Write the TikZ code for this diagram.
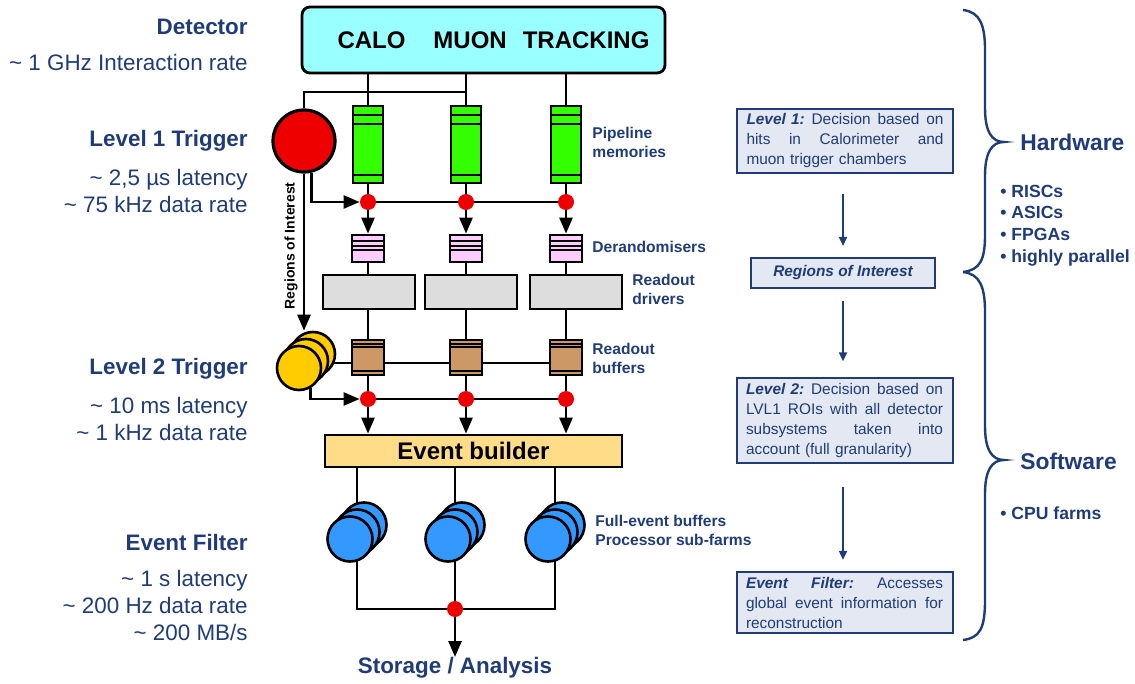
\documentclass[tikz,border=0pt]{standalone}
\usepackage{fontspec}
\setmainfont{Liberation Sans}
\usetikzlibrary{arrows.meta,backgrounds}

\definecolor{navy}{HTML}{1F3C78}
\definecolor{detcyan}{HTML}{99FFFF}
\definecolor{pipegreen}{HTML}{33FF00}
\definecolor{dotred}{HTML}{EE0000}
\definecolor{derpink}{HTML}{FFCCFF}
\definecolor{rodgray}{HTML}{DDDDDD}
\definecolor{robtan}{HTML}{CC9966}
\definecolor{lvltwo}{HTML}{FFCC00}
\definecolor{evbuild}{HTML}{FFDD88}
\definecolor{farmblue}{HTML}{3399FF}
\definecolor{boxfill}{HTML}{E3E8F2}

\tikzset{wire/.style={line width=1.3pt},
arr/.style={wire, -{Triangle[length=8pt,width=6.5pt]}},
infoarr/.style={navy, line width=1pt, -{Triangle[length=4.5pt,width=4pt]}},
jdot/.style={circle, fill=dotred, minimum size=8pt, inner sep=0pt},
%stripes across the top and bottom of a box
stripe/.style={line width=#1},
stripe/.default={1pt},
pipe/.style={draw, line width=1.4pt, fill=pipegreen, minimum width=15pt, minimum height=38.5pt, inner sep=0pt,
  path picture={
    \draw[stripe=1.1pt] ([yshift=-4.5pt]path picture bounding box.north west) -- ([yshift=-4.5pt]path picture bounding box.north east);
    \draw[stripe=1.1pt] ([yshift=-9pt]path picture bounding box.north west) -- ([yshift=-9pt]path picture bounding box.north east);
    \draw[stripe=1.1pt] ([yshift=4pt]path picture bounding box.south west) -- ([yshift=4pt]path picture bounding box.south east);}},
derand/.style={draw, line width=1.4pt, fill=derpink, minimum width=16pt, minimum height=13.5pt, inner sep=0pt,
  path picture={
    \foreach \s in {3,5.5,7.5}
      \draw[stripe=0.8pt] ([yshift=-\s pt]path picture bounding box.north west) -- ([yshift=-\s pt]path picture bounding box.north east);}},
robuf/.style={draw, line width=1.4pt, fill=robtan, minimum width=16pt, minimum height=17.5pt, inner sep=0pt,
  path picture={
    \foreach \s in {2,3.5}
      \draw[stripe=0.7pt] ([yshift=-\s pt]path picture bounding box.north west) -- ([yshift=-\s pt]path picture bounding box.north east);
    \draw[stripe=0.7pt] ([yshift=2pt]path picture bounding box.south west) -- ([yshift=2pt]path picture bounding box.south east);}},
rodrv/.style={draw, line width=1.4pt, fill=rodgray, minimum width=46pt, minimum height=17pt, inner sep=0pt},
detbox/.style={draw, line width=1.4pt, rounded corners=4pt, fill=detcyan, minimum width=181.5pt, minimum height=33pt,
  font=\bfseries\fontsize{12}{14}\selectfont},
evbox/.style={draw, line width=1.4pt, fill=evbuild, minimum width=148.5pt, minimum height=16pt, inner sep=0pt,
  font=\bfseries\fontsize{12}{14}\selectfont},
lone/.style={circle, draw, line width=1.6pt, fill=dotred, minimum size=31pt, inner sep=0pt},
ltwo/.style={circle, draw, line width=1.3pt, fill=lvltwo, minimum size=22pt, inner sep=0pt},
farm/.style={circle, draw, line width=1.3pt, fill=farmblue, minimum size=22.5pt, inner sep=0pt},
lvlhead/.style={anchor=east, inner sep=0pt, text=navy, font=\bfseries\fontsize{11.2}{13.5}\selectfont},
lvlinfo/.style={anchor=east, inner sep=0pt, text=navy, align=right, font=\fontsize{11.2}{13.5}\selectfont},
partlbl/.style={anchor=west, inner sep=0pt, text=navy, align=left, font=\bfseries\fontsize{7.8}{9.5}\selectfont},
infobox/.style={draw=navy, line width=1pt, fill=boxfill, text=navy, text width=98.5pt, inner xsep=4.75pt, inner ysep=2.5pt,
  align=left, font=\fontsize{7.7}{10}\selectfont},
roibox/.style={draw=navy, line width=1pt, fill=boxfill, text=navy, minimum width=92pt, minimum height=15pt, inner sep=0pt,
  font=\bfseries\itshape\fontsize{7.7}{10}\selectfont},
hwlbl/.style={anchor=west, inner sep=0pt, text=navy, font=\bfseries\fontsize{11.4}{13.5}\selectfont},
hwlist/.style={anchor=west, inner sep=0pt, text=navy, align=left, font=\bfseries\fontsize{8.8}{10.8}\selectfont},
brace/.style={navy, line width=1.2pt}}

\begin{document}
\begin{tikzpicture}[x=0.5pt,y=-0.5pt]
\useasboundingbox (0,0) rectangle (1135,684);

% rates on the left
\node[lvlhead] (detlbl) at (248,27) {Detector};
\node[lvlinfo] (detinfo) at (248,62) {\textasciitilde{} 1 GHz Interaction rate};
\node[lvlhead] (lonelbl) at (248,141) {Level 1 Trigger};
\node[lvlinfo] (loneinfo) at (248,190.5) {\textasciitilde{} 2,5 µs latency\\\textasciitilde{} 75 kHz data rate};
\node[lvlhead] (ltwolbl) at (248,369) {Level 2 Trigger};
\node[lvlinfo] (ltwoinfo) at (248,418.5) {\textasciitilde{} 10 ms latency\\\textasciitilde{} 1 kHz data rate};
\node[lvlhead] (eflbl) at (248,542) {Event Filter};
\node[lvlinfo] (efinfo) at (248,605) {\textasciitilde{} 1 s latency\\\textasciitilde{} 200 Hz data rate\\\textasciitilde{} 200 MB/s};

% detector and readout chain
\node[detbox] (det) at (483.5,40) {\hspace*{10pt}CALO\hspace{14pt}MUON\hspace{8pt}TRACKING};
\node[lone] (lone) at (304,141) {};
\foreach \nm/\cx in {a/368, b/466, c/566}{
  \node[pipe] (pipe\nm) at (\cx,144.5) {};
  \node[jdot] (done\nm) at (\cx,202) {};
  \node[derand] (der\nm) at (\cx,248.5) {};
  \node[robuf] (buf\nm) at (\cx,357.5) {};
  \node[jdot] (dtwo\nm) at (\cx,399) {};
}
\foreach \nm/\dx in {a/369, b/471, c/576}
  \node[rodrv] (rod\nm) at (\dx,292) {};
\node[ltwo] (ltwoc) at (313,354) {};
\node[ltwo] (ltwob) at (306,361) {};
\node[ltwo] (ltwoa) at (299,368) {};
\node[evbox] (evb) at (473.5,451) {Event builder};
\foreach \nm/\fx in {a/357, b/455, c/555}{
  \node[farm] (farmc\nm) at (\fx+7,525) {};
  \node[farm] (farmb\nm) at (\fx,532) {};
  \node[farm] (farma\nm) at (\fx-7,539) {};
}
\node[jdot] (dend) at (455,609) {};
\node[anchor=north, inner sep=0pt, text=navy, font=\bfseries\fontsize{11.2}{13.5}\selectfont] (store) at (455,657) {Storage / Analysis};

\node[partlbl] (pipelbl) at (592,142.5) {Pipeline\\memories};
\node[partlbl] (derlbl) at (592,247) {Derandomisers};
\node[partlbl] (rodlbl) at (632,289.5) {Readout\\drivers};
\node[partlbl] (buflbl) at (592,358) {Readout\\buffers};
\node[partlbl] (farmlbl) at (595,530.5) {Full-event buffers\\Processor sub-farms};

\begin{scope}[on background layer]
  \foreach \nm in {a,b,c}{
    \draw[wire] (det.south -| pipe\nm) -- (pipe\nm.north);
    \draw[wire] (pipe\nm) -- (done\nm);
    \draw[wire] (der\nm.south) -- (der\nm.south |- rod\nm.north);
    \draw[wire] (rod\nm.south -| buf\nm) -- (buf\nm.north);
    \draw[wire] (buf\nm) -- (dtwo\nm);
    \draw[wire] (evb.south -| farmb\nm) -- (farmb\nm.center);
  }
  \draw[wire] (donea) -- (doneb) -- (donec);
  \draw[wire] (dtwoa) -- (dtwob) -- (dtwoc);
  \draw[wire] ([yshift=-2.75pt]bufc.center) -- ([yshift=-2.75pt]bufa.center) -- ([yshift=-2.75pt]bufa.center -| ltwob.center);
  \draw[wire] (farmba.center) |- (dend);
  \draw[wire] (farmbc.center) |- (dend);
  \draw[wire] (farmbb.center) -- (dend);
\end{scope}

\coordinate (tap) at (467,92);
\draw[wire] (lone.north) |- (tap);
\draw[arr] (lone.-77) |- (donea.west);
\draw[arr] (lone.south) -- (lone.south |- ltwoc.north)
  node[pos=0.46, rotate=90, anchor=south, inner sep=2.5pt, font=\bfseries\fontsize{7}{8}\selectfont] {Regions of Interest};
\draw[arr] (ltwoa.-60) |- (dtwoa.west);
\foreach \nm in {a,b,c}{
  \draw[arr] (done\nm) -- (der\nm.north);
  \draw[arr] (dtwo\nm) -- (dtwo\nm |- evb.north);
}
\draw[arr] (dend) -- (store.north);

% trigger levels on the right
\node[infobox] (lvone) at (845,141) {\textbf{\textit{Level 1:}}\hfill Decision\hfill based\hfill on\\hits\hfill in\hfill Calorimeter\hfill and\\muon trigger chambers};
\node[roibox] (roi) at (843,273) {Regions of Interest};
\node[infobox] (lvtwo) at (844.5,420.5) {\textbf{\textit{Level 2:}}\hfill Decision\hfill based\hfill on\\LVL1\hfill ROIs\hfill with\hfill all\hfill detector\\subsystems\hfill taken\hfill into\\account (full granularity)};
\node[infobox] (efbox) at (844.5,602.5) {\textbf{\textit{Event\hfill Filter:}}\hfill Accesses\\global\hfill event\hfill information\hfill for\\reconstruction};
\draw[infoarr, shorten <=10pt, shorten >=5.5pt] (lvone.south -| roi.north) -- (roi.north);
\draw[infoarr, shorten <=6pt, shorten >=8pt] (roi.south) -- (roi.south |- lvtwo.north);
\draw[infoarr, shorten <=11.5pt, shorten >=5.5pt] (lvtwo.south -| roi.south) -- (roi.south |- efbox.north);

% hardware / software braces
\draw[brace] (963,10) .. controls (980,12) and (985,25) .. (985,50) -- (985,108)
  .. controls (985,132) and (992,142) .. (1004,142) .. controls (992,142) and (985,152) .. (985,176)
  -- (985,235) .. controls (985,260) and (980,270) .. (963,272);
\draw[brace] (963,272) .. controls (980,274) and (985,287) .. (985,312) -- (985,426)
  .. controls (985,450) and (992,460) .. (1004,460) .. controls (992,460) and (985,470) .. (985,494)
  -- (985,600) .. controls (985,628) and (980,638) .. (963,640);
\node[hwlbl] (hw) at (1020,142) {Hardware};
\node[hwlist] (hwlist) at (1000,225.5) {• RISCs\\• ASICs\\• FPGAs\\• highly parallel};
\node[hwlbl] (sw) at (1020,461) {Software};
\node[hwlist] (swlist) at (1000,513) {• CPU farms};
\end{tikzpicture}
\end{document}
